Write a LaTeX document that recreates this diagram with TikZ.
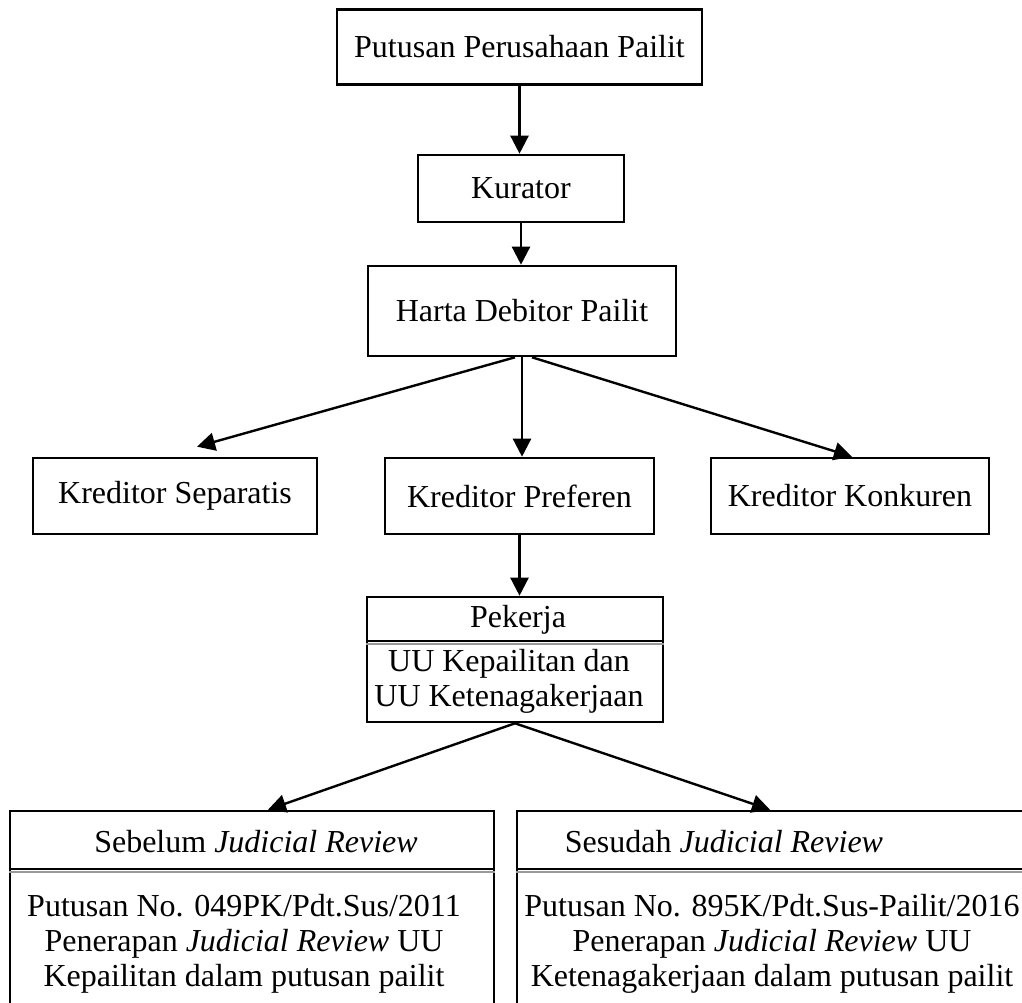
\documentclass[tikz,border=0pt]{standalone}
\usepackage{fontspec}
\setmainfont{Liberation Serif}
\usetikzlibrary{positioning,arrows.meta,calc}
\tikzset{
block/.style={
  draw,
  rectangle,
  line width=2.6pt,
  inner sep=0pt
  },
link/.style={draw, line width=2.4pt, -{Triangle[length=18pt,width=18pt]}},
rule/.style={draw=gray!80, line width=2pt}
}

\begin{document}
\begin{tikzpicture}[x=1pt,y=1pt,yscale=-1,xscale=1,font=\fontsize{32}{35}\selectfont]
\clip (0,0) rectangle (1022,1003);

% top chain
\node [block, minimum width=365pt, minimum height=75pt] (putusan) at (519.5,47) {Putusan Perusahaan Pailit};
\node [block, minimum width=206pt, minimum height=67pt] (kurator) at (521,188.5) {Kurator};
\node [block, minimum width=308pt, minimum height=90pt] (harta) at (522,311) {Harta Debitor Pailit};

% kreditor row
\node [block, minimum width=284pt, minimum height=76pt] (separatis) at (175,496) {Kreditor Separatis};
\node [block, minimum width=269pt, minimum height=76pt] (preferen) at (519.5,496) {Kreditor Preferen};
\node [block, minimum width=278pt, minimum height=76pt] (konkuren) at (850,496) {Kreditor Konkuren};

% pekerja
\node [block, minimum width=296pt, minimum height=44pt] (pkhead) at (515,619) {};
\node [block, minimum width=296pt, minimum height=81pt] (pkbody) at (515,681.5) {};
\node (pktitle) at (518,620) {Pekerja};
\node [align=center] (pktext) at (509,681) {UU Kepailitan dan\\UU Ketenagakerjaan};
\path [rule] ([yshift=4pt]pkbody.north west) -- ([yshift=4pt]pkbody.north east);

% judicial review
\node [block, minimum width=484pt, minimum height=58pt] (sbhead) at (252,840) {};
\node [block, minimum width=484pt, minimum height=150pt] (sbbody) at (252,944) {};
\node [block, minimum width=518pt, minimum height=58pt] (sdhead) at (776,840) {};
\node [block, minimum width=518pt, minimum height=150pt] (sdbody) at (776,944) {};
\path [rule] ([yshift=4pt]sbbody.north west) -- ([yshift=4pt]sbbody.north east);
\path [rule] ([yshift=4pt]sdbody.north west) -- ([yshift=4pt]sdbody.north east);
\node (sbtitle) at (256,842) {Sebelum \textit{Judicial Review}};
\node (sdtitle) at (724,842) {Sesudah \textit{Judicial Review}};
\node [align=center] (sbtext) at (244,944) {Putusan No. 049PK/Pdt.Sus/2011\\Penerapan \textit{Judicial Review} UU\\Kepailitan dalam putusan pailit};
\node [align=center] (sdtext) at (772,944) {Putusan No. 895K/Pdt.Sus-Pailit/2016\\Penerapan \textit{Judicial Review} UU\\Ketenagakerjaan dalam putusan pailit};

% arrows
\path [link] (putusan.south) -- (putusan.south |- kurator.north);
\path [link] (kurator.south) -- (kurator.south |- harta.north);
\path [link] ([xshift=-7pt]harta.south) -- ([xshift=22pt,yshift=-10pt]separatis.north);
\path [link] (harta.south) -- (harta.south |- preferen.north);
\path [link] ([xshift=10pt]harta.south) -- ([xshift=2pt]konkuren.north);
\path [link] (preferen.south) -- (preferen.south |- pkhead.north);
\path [link] (pkbody.south) -- ([xshift=16pt]sbhead.north);
\path [link] (pkbody.south) -- ([xshift=-6pt]sdhead.north);

\end{tikzpicture}
\end{document}
